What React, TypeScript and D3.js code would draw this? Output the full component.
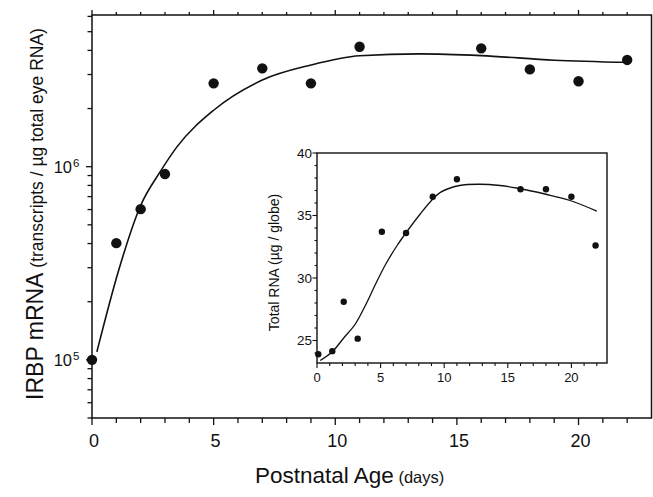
import React from "react";
import * as d3 from "d3";

// Main chart: IRBP mRNA (log scale)
const mainDays = [0, 1, 2, 3, 5, 7, 9, 11, 16, 18, 20, 22];
const mainValues = [1.0e5, 4.02e5, 6.03e5, 9.16e5, 2.7e6, 3.23e6, 2.7e6, 4.18e6, 4.1e6, 3.19e6, 2.77e6, 3.57e6];
const mainFitDays = [0.2, 1.1, 2.0, 2.8, 3.5, 5, 7, 9, 11, 13.5, 16, 19, 22];
const mainFitValues = [1.1e5, 2.92e5, 6.3e5, 9.4e5, 1.27e6, 1.96e6, 2.81e6, 3.36e6, 3.75e6, 3.84e6, 3.76e6, 3.56e6, 3.47e6];
const mainXTicks = [0, 5, 10, 15, 20];
const mainYLabelTicks = [{ v: 1e5, exp: "5" }, { v: 1e6, exp: "6" }];

// Inset: Total RNA
const insetDays = [0.1, 1.2, 2.1, 3.2, 5.1, 7, 9.1, 11, 16, 18, 20, 21.9];
const insetValues = [23.9, 24.15, 28.1, 25.15, 33.7, 33.6, 36.5, 37.9, 37.1, 37.1, 36.5, 32.6];
const insetFitDays = [0.25, 1.2, 2.1, 3.0, 3.8, 4.6, 5.4, 6.3, 7.2, 8.1, 9.0, 9.7, 11.2, 12.8, 14.4, 15.7, 18, 19.9, 22];
const insetFitValues = [23.4, 24.1, 25.2, 26.3, 27.8, 29.5, 31.1, 32.6, 33.9, 35.1, 36.2, 36.85, 37.4, 37.5, 37.4, 37.2, 36.7, 36.2, 35.35];
const insetXTicks = [0, 5, 10, 15, 20];
const insetYTicks = [25, 30, 35, 40];

const FONT = "'Liberation Sans', Arial, Helvetica, sans-serif";
const INK = "#111";

export default function App() {
  const W = 653, H = 497;
  const x = d3.scaleLinear().domain([0, 23]).range([92, 651.5]);
  const y = d3.scaleLog().domain([5e4, 6.1e6]).range([418, 15]);
  const xi = d3.scaleLinear().domain([0, 22.8]).range([317, 607]);
  const yi = d3.scaleLinear().domain([23.2, 40]).range([363, 153]);

  const mainLine = d3
    .line<number>()
    .x((d, i) => x(mainFitDays[i]))
    .y((d) => y(d))
    .curve(d3.curveMonotoneX);
  const insetLine = d3
    .line<number>()
    .x((d, i) => xi(insetFitDays[i]))
    .y((d) => yi(d))
    .curve(d3.curveCatmullRom.alpha(0.5));

  const dayTicks = d3.range(0, 23, 1);
  const logTicks: number[] = [];
  [1e4, 1e5, 1e6].forEach((dec) => {
    for (let m = 1; m <= 9; m++) {
      const v = m * dec;
      if (v >= 5e4 && v <= 6.1e6) logTicks.push(v);
    }
  });
  const insetDayTicks = d3.range(0, 23, 1);
  const insetValTicks = d3.range(24, 41, 1);

  const [x0, x1] = x.range();
  const [y0, y1] = y.range();
  const [ix0, ix1] = xi.range();
  const [iy0, iy1] = yi.range();

  return (
    <svg
      width={W}
      height={H}
      style={{ position: "absolute", left: 0, top: 0, background: "#fff" }}
      fontFamily={FONT}
    >
      <rect x={0} y={0} width={W} height={H} fill="#fff" />
      {/* Main frame */}
      <rect x={x0} y={y1} width={x1 - x0} height={y0 - y1} fill="none" stroke={INK} strokeWidth={1.5} />
      {/* bottom ticks */}
      {dayTicks.map((d) => (
        <line key={"bt" + d} x1={x(d)} x2={x(d)} y1={y0} y2={y0 + (d % 5 === 0 ? 7 : 5)} stroke={INK} strokeWidth={1.3} />
      ))}
      {/* top ticks */}
      {dayTicks.map((d) => (
        <line key={"tt" + d} x1={x(d)} x2={x(d)} y1={y1} y2={y1 - (d % 5 === 0 ? 5 : 3)} stroke={INK} strokeWidth={1.3} />
      ))}
      {/* left ticks */}
      {logTicks.map((v) => {
        const major = Math.abs(Math.log10(v) - Math.round(Math.log10(v))) < 1e-9;
        return (
          <line key={"lt" + v} x1={x0} x2={x0 - (major ? 6 : 4.5)} y1={y(v)} y2={y(v)} stroke={INK} strokeWidth={1.3} />
        );
      })}
      {/* x tick labels */}
      {mainXTicks.map((d) => (
        <text key={"xl" + d} x={x(d) + 2} y={447} textAnchor="middle" fontSize={18} fill={INK}>
          {d}
        </text>
      ))}
      {/* y tick labels */}
      {mainYLabelTicks.map((t) => (
        <g key={"yl" + t.v}>
          <text x={72} y={y(t.v) + 6.5} textAnchor="end" fontSize={16.5} fill={INK}>
            10
          </text>
          <text x={73} y={y(t.v) + 0.5} textAnchor="start" fontSize={11.5} fill={INK}>
            {t.exp}
          </text>
        </g>
      ))}
      {/* axis titles */}
      <text x={255} y={483} fontSize={22.5} fill={INK}>
        Postnatal Age<tspan fontSize={16.5}> (days)</tspan>
      </text>
      <text transform="translate(43,214) rotate(-90)" textAnchor="middle" fontSize={23} fill={INK}>
        IRBP mRNA<tspan fontSize={17.5}> (transcripts / µg total eye RNA)</tspan>
      </text>
      {/* main fit curve */}
      <path d={mainLine(mainFitValues) || ""} fill="none" stroke={INK} strokeWidth={1.6} />
      {/* main points */}
      {mainDays.map((d, i) => (
        <circle key={"mp" + i} cx={x(d)} cy={y(mainValues[i])} r={5.2} fill={INK} />
      ))}

      {/* Inset */}
      <rect x={ix0} y={iy1} width={ix1 - ix0} height={iy0 - iy1} fill="#fff" stroke={INK} strokeWidth={1.4} />
      {insetDayTicks.map((d) => (
        <line key={"ibt" + d} x1={xi(d)} x2={xi(d)} y1={iy0} y2={iy0 + (d % 5 === 0 ? 5 : 3)} stroke={INK} strokeWidth={1.1} />
      ))}
      {insetValTicks.map((v) => (
        <line key={"ilt" + v} x1={ix0} x2={ix0 - (v % 5 === 0 ? 4.5 : 2.5)} y1={yi(v)} y2={yi(v)} stroke={INK} strokeWidth={1.1} />
      ))}
      {insetXTicks.map((d) => (
        <text key={"ixl" + d} x={xi(d)} y={382} textAnchor="middle" fontSize={13} fill={INK}>
          {d}
        </text>
      ))}
      {insetYTicks.map((v) => (
        <text key={"iyl" + v} x={312} y={yi(v) + 4.8} textAnchor="end" fontSize={13.5} fill={INK}>
          {v}
        </text>
      ))}
      <text transform="translate(278.5,262.5) rotate(-90)" textAnchor="middle" fontSize={14} fill={INK}>
        Total RNA (µg / globe)
      </text>
      <path d={insetLine(insetFitValues) || ""} fill="none" stroke={INK} strokeWidth={1.3} />
      {insetDays.map((d, i) => (
        <circle key={"ip" + i} cx={xi(d)} cy={yi(insetValues[i])} r={3.2} fill={INK} />
      ))}
    </svg>
  );
}
